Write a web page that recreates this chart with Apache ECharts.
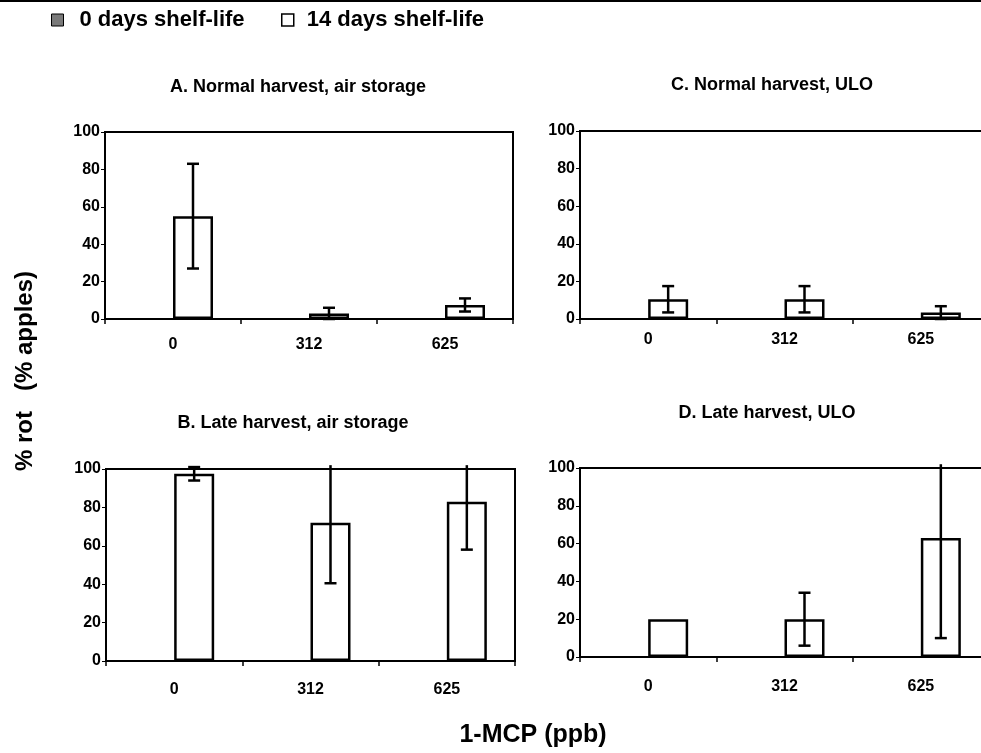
<!DOCTYPE html>
<html>
<head>
<meta charset="utf-8">
<script src="https://cdn.jsdelivr.net/npm/echarts@6/dist/echarts.min.js"></script>
<style>
html,body{margin:0;padding:0;background:#fff;}
#main{width:981px;height:753px;}
</style>
</head>
<body>
<div id="main"></div>
<script>
// ---- data ----
const categories = ['0', '312', '625'];
const seriesNames = ['0 days shelf-life', '14 days shelf-life'];
const panelTitles = ['A. Normal harvest, air storage', 'B. Late harvest, air storage', 'C. Normal harvest, ULO', 'D. Late harvest, ULO'];
const yTicks = [0, 20, 40, 60, 80, 100];

const day0A = [0, 0, 0];
const day14A = [55, 3, 7.5];
const errA = [28, 3, 3.5];

const day0B = [0, 0, 0];
const day14B = [97.5, 72, 83];
const errB = [3.5, 31.5, 25];

const day0C = [0, 0, 0];
const day14C = [10.5, 10.5, 3.4];
const errC = [7, 7, 3.4];

const day0D = [0, 0, 0];
const day14D = [20, 20, 63];
const errD = [0, 14, 53];

const yTitle = '% rot   (% apples)';
const xTitle = '1-MCP (ppb)';

// ---- layout ----
const FONT = '"Liberation Sans", Arial, Helvetica, sans-serif';
const grids = [
  {left: 105, top: 132, width: 408, height: 187},
  {left: 106, top: 469, width: 409, height: 192},
  {left: 580, top: 131, width: 409, height: 188},
  {left: 580, top: 468, width: 409, height: 189}
];
const labelMargins = [18, 21, 13, 22];
const panels = [
  {d0: day0A, d14: day14A, err: errA},
  {d0: day0B, d14: day14B, err: errB},
  {d0: day0C, d14: day14C, err: errC},
  {d0: day0D, d14: day14D, err: errD}
];
const titlePos = [[298, 87], [293, 423], [772, 85], [767, 413]];
const BAR_W = 40;

const xAxes = [], yAxes = [], series = [];
grids.forEach((g, i) => {
  xAxes.push({
    type: 'category', gridIndex: i, data: categories,
    axisLine: {lineStyle: {color: '#000', width: 2}},
    axisTick: {show: true, length: 5, lineStyle: {color: '#000', width: 1.5}},
    axisLabel: {color: '#000', fontFamily: FONT, fontWeight: 'bold', fontSize: 16, margin: labelMargins[i]}
  });
  yAxes.push({
    type: 'value', gridIndex: i, min: yTicks[0], max: yTicks[yTicks.length - 1], interval: 20,
    axisLine: {show: true, lineStyle: {color: '#000', width: 2}},
    axisTick: {show: true, length: 4, lineStyle: {color: '#000', width: 1}},
    splitLine: {show: false},
    axisLabel: {color: '#000', fontFamily: FONT, fontWeight: 'bold', fontSize: 16, margin: 5}
  });
  const p = panels[i];
  series.push({
    name: seriesNames[0], type: 'bar', xAxisIndex: i, yAxisIndex: i,
    data: p.d0, barWidth: BAR_W, barGap: '0%',
    itemStyle: {color: '#808080', borderColor: '#000', borderWidth: 2},
    silent: true
  });
  series.push({
    name: seriesNames[1], type: 'bar', xAxisIndex: i, yAxisIndex: i,
    data: p.d14, barWidth: BAR_W, barGap: '0%',
    itemStyle: {color: '#fff', borderColor: '#000', borderWidth: 2.5},
    silent: true
  });
  series.push({
    type: 'custom', xAxisIndex: i, yAxisIndex: i, silent: true, clip: false, z: 5,
    data: p.d14.map((v, k) => [k, v, p.err[k]]),
    renderItem: function (params, api) {
      const e = api.value(2);
      if (!e) return null;
      const v = api.value(1);
      const hi = v + e, lo = Math.max(v - e, 0);
      const x = api.coord([api.value(0), 0])[0] + BAR_W / 2;
      const yHi = api.coord([api.value(0), Math.min(hi, 102)])[1];
      const yLo = api.coord([api.value(0), lo])[1];
      const st = {stroke: '#000', lineWidth: 2.5, fill: null};
      const ch = [{type: 'line', shape: {x1: x, y1: yLo, x2: x, y2: yHi}, style: st}];
      if (hi <= 101.5) ch.push({type: 'line', shape: {x1: x - 6, y1: yHi, x2: x + 6, y2: yHi}, style: st});
      ch.push({type: 'line', shape: {x1: x - 6, y1: yLo, x2: x + 6, y2: yLo}, style: st});
      return {type: 'group', children: ch};
    }
  });
});

const graphics = [
  {type: 'line', shape: {x1: 0, y1: 1, x2: 981, y2: 1}, style: {stroke: '#000', lineWidth: 2}},
  {type: 'text', x: 25, y: 371, rotation: Math.PI / 2,
    style: {text: yTitle, font: 'bold 24px ' + FONT, fill: '#000', textAlign: 'center', textVerticalAlign: 'middle'}},
  {type: 'text', x: 533, y: 735,
    style: {text: xTitle, font: 'bold 25px ' + FONT, fill: '#000', textAlign: 'center', textVerticalAlign: 'middle'}}
];
panelTitles.forEach((t, i) => {
  graphics.push({type: 'text', x: titlePos[i][0], y: titlePos[i][1],
    style: {text: t, font: 'bold 18px ' + FONT, fill: '#000', textAlign: 'center', textVerticalAlign: 'middle'}});
});

const legendText = {color: '#000', fontFamily: FONT, fontWeight: 'bold', fontSize: 22};
const chart = echarts.init(document.getElementById('main'), null, {renderer: 'canvas'});
chart.setOption({
  animation: false,
  backgroundColor: '#fff',
  legend: [
    {
      left: 46, top: 4, itemWidth: 12, itemHeight: 12, icon: 'rect',
      data: [{name: seriesNames[0], itemStyle: {color: '#7a7a7a', borderColor: '#000', borderWidth: 1}}],
      textStyle: Object.assign({padding: [0, 0, 0, 11]}, legendText)
    },
    {
      left: 276, top: 4, itemWidth: 12, itemHeight: 12, icon: 'rect',
      data: [{name: seriesNames[1], itemStyle: {color: '#fff', borderColor: '#000', borderWidth: 1.5}}],
      textStyle: Object.assign({padding: [0, 0, 0, 8]}, legendText)
    }
  ],
  grid: grids.map(g => Object.assign({show: true, borderColor: '#000', borderWidth: 2, backgroundColor: 'transparent', outerBoundsMode: 'none', containLabel: false}, g)),
  xAxis: xAxes,
  yAxis: yAxes,
  series: series,
  graphic: graphics
});
</script>
</body>
</html>
